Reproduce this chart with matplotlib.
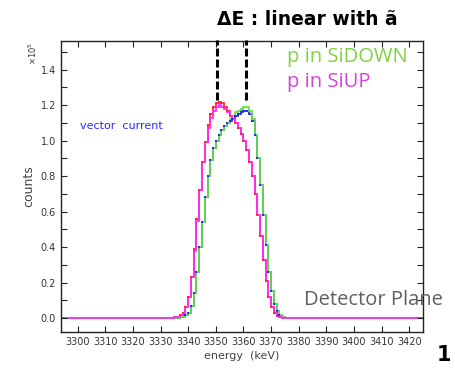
import numpy as np
import matplotlib.pyplot as plt

# 1 keV bins, first bin starts at 3334 keV; everything outside is empty
bin_start = 3334
x_range = (3294, 3425)

# p in SiUP (magenta line) and the matching vector-current points (red)
siup_line = [0.002, 0.004, 0.008, 0.015, 0.03, 0.06, 0.12, 0.23, 0.38, 0.55,
             0.72, 0.88, 0.99, 1.07, 1.13, 1.17, 1.19, 1.20, 1.19, 1.18,
             1.16, 1.14, 1.12, 1.10, 1.07, 1.04, 1.00, 0.95, 0.88, 0.80,
             0.70, 0.58, 0.46, 0.33, 0.21, 0.12, 0.06, 0.03, 0.012, 0.005,
             0.002, 0.0, 0.0, 0.0]
siup_pts = [0.002, 0.004, 0.008, 0.015, 0.03, 0.06, 0.12, 0.23, 0.39, 0.56,
            0.72, 0.88, 0.99, 1.09, 1.15, 1.19, 1.21, 1.22, 1.21, 1.19,
            1.17, 1.14, 1.12, 1.10, 1.07, 1.04, 1.00, 0.95, 0.88, 0.80,
            0.70, 0.58, 0.46, 0.33, 0.21, 0.12, 0.06, 0.03, 0.012, 0.005,
            0.002, 0.0, 0.0, 0.0]

# p in SiDOWN (green line) and the matching vector-current points (blue)
sidown_line = [0.0, 0.001, 0.002, 0.004, 0.008, 0.015, 0.03, 0.07, 0.14, 0.26,
               0.40, 0.54, 0.68, 0.80, 0.89, 0.96, 1.00, 1.03, 1.06, 1.08,
               1.10, 1.12, 1.14, 1.16, 1.17, 1.18, 1.19, 1.19, 1.17, 1.12,
               1.03, 0.90, 0.75, 0.58, 0.41, 0.26, 0.15, 0.08, 0.04, 0.02,
               0.008, 0.003, 0.001, 0.0]
sidown_pts = [0.0, 0.001, 0.002, 0.004, 0.008, 0.015, 0.03, 0.07, 0.14, 0.26,
              0.40, 0.54, 0.68, 0.80, 0.89, 0.96, 1.00, 1.03, 1.06, 1.08,
              1.10, 1.11, 1.12, 1.14, 1.15, 1.16, 1.17, 1.17, 1.15, 1.11,
              1.03, 0.90, 0.75, 0.58, 0.41, 0.26, 0.15, 0.08, 0.04, 0.02,
              0.008, 0.003, 0.001, 0.0]

# energies of the two peak markers (dashed)
peak_marks = [3350.3, 3361.0]

x_ticks = list(range(3300, 3421, 10))
y_ticks = [0.0, 0.2, 0.4, 0.6, 0.8, 1.0, 1.2, 1.4]

C_RED = '#ff2a2a'
C_PINK = '#ff2bff'
C_GREEN = '#66e044'
C_BLUE = '#2a2aff'


def full_hist(vals):
    edges = np.arange(x_range[0], x_range[1] + 1)
    h = np.zeros(len(edges) - 1)
    i0 = bin_start - x_range[0]
    h[i0:i0 + len(vals)] = vals
    return edges, h


fig = plt.figure(figsize=(4.55, 3.69), dpi=100)
ax = fig.add_axes([0.134, 0.100, 0.796, 0.789])

edges, h_red = full_hist(siup_pts)
_, h_blue = full_hist(sidown_pts)
_, h_pink = full_hist(siup_line)
_, h_green = full_hist(sidown_line)
centres = edges[:-1] + 0.5

ax.stairs(h_red, edges, color=C_RED, lw=1.3)
ax.stairs(h_blue, edges, color=C_BLUE, lw=1.3)
ax.stairs(h_green, edges, color=C_GREEN, lw=1.3)
ax.stairs(h_pink, edges, color=C_PINK, lw=1.3)

m = h_red > 0.01
ax.plot(centres[m] - 0.5, h_red[m], 's', ms=1.8, color=C_RED, mew=0)
m = h_blue > 0.01
ax.plot(centres[m] - 0.5, h_blue[m], 's', ms=1.8, color=C_BLUE, mew=0)

for xp in peak_marks:
    ax.plot([xp, xp], [1.23, 1.565], color='black', lw=2.2,
            dashes=(2.6, 1.0), clip_on=False, zorder=5)

ax.set_xlim(*x_range)
ax.set_ylim(-0.079, 1.562)
ax.set_xticks(x_ticks)
ax.set_yticks(y_ticks)
ax.set_yticks(np.arange(-0.0, 1.55, 0.1), minor=True)
ax.set_yticklabels([f'{v:.1f}' for v in y_ticks])

tick_font = ['Liberation Sans Narrow', 'DejaVu Sans']
for lab in ax.get_xticklabels() + ax.get_yticklabels():
    lab.set_family(tick_font)
ax.tick_params(which='both', direction='in', top=True, right=True,
               length=4, width=0.8, labelsize=7, labelcolor='#333333',
               color='#222222')
for sp in ax.spines.values():
    sp.set_linewidth(1.0)
    sp.set_color('#222222')

ax.set_ylabel('counts', fontsize=9, color='#444444', labelpad=4)
ax.set_xlabel('energy  (keV)', fontsize=8, color='#444444', labelpad=3)
fig.text(0.073, 0.855, '×10$^5$', rotation=90, fontsize=6, color='#333333',
         ha='center', va='center')

ax.text(3301, 1.085, 'vector  current', fontsize=8, color=C_BLUE,
        ha='left', va='center')
fig.text(0.631, 0.846, 'p in SiDOWN', fontsize=14.5, color='#7ed33f',
         family='Open Sans', ha='left', va='center')
fig.text(0.631, 0.778, 'p in SiUP', fontsize=14.5, color='#d940d9',
         family='Open Sans', ha='left', va='center')
fig.text(0.668, 0.187, 'Detector Plane', fontsize=14.5, color='#5f5f5f',
         family='Open Sans', ha='left', va='center')
fig.text(0.477, 0.946, 'ΔE : linear with ã', fontsize=13.5, fontweight='bold',
         color='black', ha='left', va='center')
fig.text(0.960, 0.012, '1', fontsize=15, fontweight='bold', color='black',
         ha='left', va='bottom')

fig.savefig('out.png', dpi=100)
